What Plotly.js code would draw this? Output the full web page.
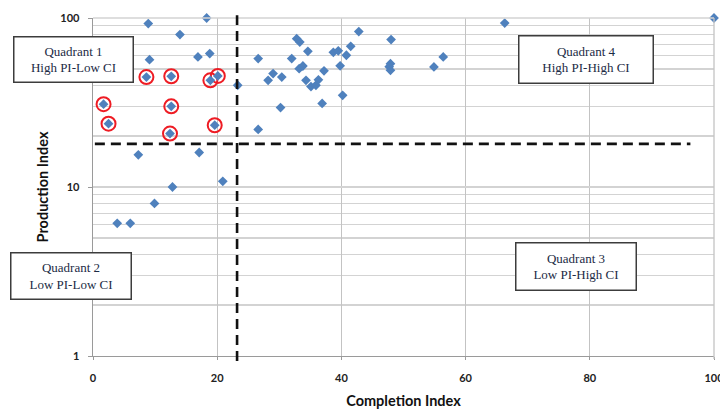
<!DOCTYPE html>
<html>
<head>
<meta charset="utf-8">
<script src="https://cdn.plot.ly/plotly-3.0.1.min.js"></script>
<style>
  html, body { margin: 0; padding: 0; background: #fff; }
  #chart { width: 720px; height: 409px; }
</style>
</head>
<body>
<div id="chart"></div>
<script>
// Completion Index (x) and Production Index (y) of each project
const completionIndex = [
  8.9, 18.3, 14.0, 9.1, 16.9, 18.8, 8.6, 12.6, 18.9, 20.1, 23.3,
  1.7, 12.6, 2.5, 19.6, 12.4, 7.3, 17.1, 12.8, 20.9, 9.9, 3.9, 6.0,
  26.6, 26.6, 28.2, 29.0, 30.4, 30.2, 32.0, 32.8, 33.3, 34.6, 33.2,
  33.8, 34.3, 35.1, 35.9, 36.3, 37.2, 36.9, 38.7, 39.5, 40.8, 39.8,
  40.2, 41.5, 42.8, 48.0, 47.9, 47.7, 47.9, 54.9, 56.4, 66.3, 100
];
const productionIndex = [
  92.7, 100, 79.8, 56.7, 58.8, 61.6, 44.7, 45.2, 42.8, 45.4, 40.0,
  30.9, 30.0, 23.7, 23.2, 20.7, 15.5, 16.0, 10.0, 10.8, 8.0, 6.1, 6.1,
  57.5, 21.9, 42.8, 46.9, 44.7, 29.5, 57.5, 75.5, 72.1, 63.5, 50.1,
  52.0, 42.8, 39.3, 40.0, 43.1, 48.7, 31.2, 62.7, 64.0, 60.2, 52.1,
  34.9, 68.0, 83.1, 74.5, 53.7, 51.5, 49.0, 51.3, 58.8, 93.4, 100
];
// projects ringed in red (indices into the arrays above)
const highlighted = [6, 7, 8, 9, 11, 12, 13, 14, 15];

// axis ticks
const xTicks = [0, 20, 40, 60, 80, 100];
const yTicks = [1, 10, 100];

// quadrant thresholds
const ciThreshold = 23.2;
const piThreshold = 18;
const piLineExtent = [0.3, 96.2];

const quadrantLabels = [
  'Quadrant 1<br>High PI-Low CI',
  'Quadrant 4<br>High PI-High CI',
  'Quadrant 2<br>Low PI-Low CI',
  'Quadrant 3<br>Low PI-High CI'
];

const blue = '#4f81bd';
const gridH = '#d3d3d3';
const gridV = '#c3c3c3';
const axisGray = '#9a9a9a';
const dashLine = { color: '#111', width: 2.6, dash: '10px,6px' };
const labelFont = { family: 'Lato, "Liberation Sans", sans-serif', size: 11, color: '#222', weight: 'bold' };
const titleFont = { family: 'Lato, "Liberation Sans", sans-serif', size: 14.5, color: '#111', weight: 'bold' };
const boxFont = { family: '"Liberation Serif", "Times New Roman", serif', size: 13, color: '#1c2b45' };

const traces = [
  {
    x: piLineExtent,
    y: [piThreshold, piThreshold],
    mode: 'lines',
    line: dashLine,
    hoverinfo: 'skip'
  },
  {
    x: highlighted.map(i => completionIndex[i]),
    y: highlighted.map(i => productionIndex[i]),
    mode: 'markers',
    marker: { symbol: 'circle-open', size: 14, color: '#ee1c24', line: { width: 2, color: '#ee1c24' } },
    cliponaxis: false
  },
  {
    x: completionIndex,
    y: productionIndex,
    mode: 'markers',
    marker: { symbol: 'diamond', size: 7.5, color: blue },
    cliponaxis: false
  }
];

function quadrantBox(text, x, y, w, h) {
  return {
    text: text, xref: 'paper', yref: 'paper', x: x, y: y,
    xanchor: 'center', yanchor: 'middle', showarrow: false,
    width: w, height: h, align: 'center', valign: 'middle',
    bgcolor: '#fff', bordercolor: '#3c3c3c', borderwidth: 1.5, borderpad: 0,
    font: boxFont
  };
}

const layout = {
  width: 720,
  height: 409,
  margin: { l: 93, r: 6, t: 18, b: 53 },
  paper_bgcolor: '#fff',
  plot_bgcolor: '#fff',
  showlegend: false,
  xaxis: {
    range: [0, 100],
    tickvals: xTicks,
    ticktext: xTicks.map(String),
    ticklabeloverflow: 'allow',
    showgrid: true,
    gridcolor: gridV,
    gridwidth: 1.3,
    zeroline: false,
    showline: true,
    linecolor: axisGray,
    linewidth: 1.3,
    ticks: 'outside',
    ticklen: 3,
    tickcolor: axisGray,
    ticklabelstandoff: 8,
    tickfont: labelFont,
    title: { text: 'Completion Index', font: titleFont, standoff: 19 }
  },
  yaxis: {
    type: 'log',
    range: [0, 2],
    tickvals: yTicks,
    ticktext: yTicks.map(String),
    showgrid: true,
    gridcolor: gridH,
    gridwidth: 1.3,
    minor: { dtick: 'D1', showgrid: true, gridcolor: gridH, gridwidth: 1.3, ticks: '' },
    zeroline: false,
    showline: true,
    linecolor: axisGray,
    linewidth: 1.3,
    ticks: 'outside',
    ticklen: 4,
    tickcolor: axisGray,
    ticklabelstandoff: 6,
    tickfont: labelFont,
    title: { text: 'Production Index', font: titleFont, standoff: 8 }
  },
  shapes: [
    // outer gridlines along the top and right edges of the plot
    { type: 'line', xref: 'paper', yref: 'paper', x0: 0, x1: 1, y0: 1, y1: 1,
      line: { color: gridH, width: 1.3 } },
    { type: 'line', xref: 'paper', yref: 'paper', x0: 1, x1: 1, y0: -0.009, y1: 1,
      line: { color: gridV, width: 1.3 } },
    // Completion Index threshold
    { type: 'line', xref: 'x', yref: 'paper',
      x0: ciThreshold, x1: ciThreshold, y0: -0.015, y1: 1.008, line: dashLine }
  ],
  annotations: [
    quadrantBox(quadrantLabels[0], -0.0314, 0.8772, 118, 44),
    quadrantBox(quadrantLabels[1], 0.7931, 0.8772, 133, 46),
    quadrantBox(quadrantLabels[2], -0.0357, 0.2373, 119, 45),
    quadrantBox(quadrantLabels[3], 0.7775, 0.2657, 119, 46)
  ]
};

Plotly.newPlot('chart', traces, layout, { displayModeBar: false, staticPlot: true });
</script>
</body>
</html>
